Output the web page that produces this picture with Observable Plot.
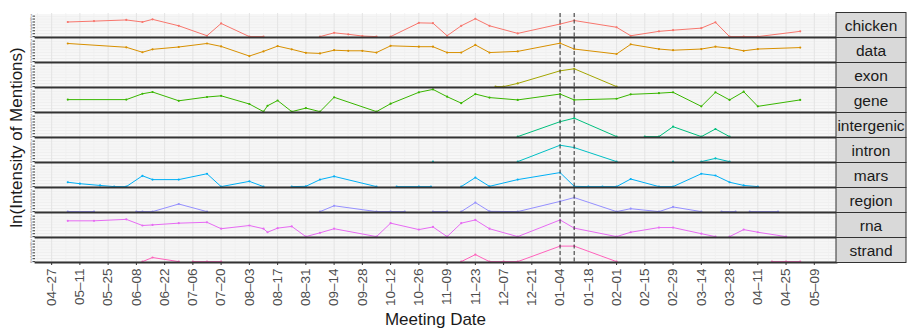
<!DOCTYPE html>
<html>
<head>
<meta charset="utf-8">
<script src="https://cdn.jsdelivr.net/npm/d3@7"></script>
<script src="https://cdn.jsdelivr.net/npm/@observablehq/plot@0.6"></script>
<style>
  html, body { margin: 0; padding: 0; background: #ffffff; }
  #chart { width: 912px; height: 328px; }
</style>
</head>
<body>
<div id="chart"></div>
<script>
// ---- categories & colours ----
const words = ["chicken","data","exon","gene","intergenic","intron","mars","region","rna","strand"];
const palette = ["#F8766D","#D89000","#A3A500","#39B600","#00BF7D","#00BFC4","#00B0F6","#9590FF","#E76BF3","#FF62BC"];

// ---- series: [meeting date, ln(intensity)]; null = no mention (line gap) ----
const sChicken = [["2015-05-05",5.0],["2015-05-18",5.3],["2015-06-03",5.7],["2015-06-11",5.0],["2015-06-16",5.9],["2015-06-29",3.7],["2015-07-13",0.3],["2015-07-20",4.5],["2015-08-03",0],["2015-08-10",0],["2015-08-20",null],["2015-09-07",0],["2015-09-14",1.3],["2015-09-21",0.8],["2015-09-28",0.2],["2015-10-05",0],["2015-10-08",null],["2015-10-12",0],["2015-10-26",4.7],["2015-11-02",4.6],["2015-11-09",0.3],["2015-11-16",3.7],["2015-11-23",6.1],["2015-11-30",3.7],["2015-12-14",1.1],["2016-01-04",4.3],["2016-01-11",5.5],["2016-02-01",3.2],["2016-02-08",0.3],["2016-02-22",1.8],["2016-02-29",2.2],["2016-03-14",2.9],["2016-03-21",4.9],["2016-03-28",0],["2016-04-04",0],["2016-04-11",0],["2016-05-02",1.8]];
const sData = [["2015-05-05",6.2],["2015-06-03",4.9],["2015-06-11",3.2],["2015-06-16",4.2],["2015-06-29",5.0],["2015-07-13",6.2],["2015-07-20",5.2],["2015-08-03",1.9],["2015-08-10",3.5],["2015-08-17",5.3],["2015-08-24",4.2],["2015-08-31",3.0],["2015-09-07",2.8],["2015-09-14",3.9],["2015-09-21",3.7],["2015-09-28",3.7],["2015-10-05",3.1],["2015-10-12",5.4],["2015-10-26",5.1],["2015-11-02",5.1],["2015-11-09",3.1],["2015-11-16",3.1],["2015-11-23",5.7],["2015-11-30",3.1],["2015-12-14",3.5],["2016-01-04",6.3],["2016-01-11",4.3],["2016-02-01",2.6],["2016-02-08",5.9],["2016-02-22",4.3],["2016-02-29",3.9],["2016-03-14",4.3],["2016-03-21",5.1],["2016-03-28",4.6],["2016-04-04",3.7],["2016-04-11",4.3],["2016-05-02",4.8]];
const sExon = [["2015-12-03",0],["2015-12-07",0],["2015-12-14",1.1],["2016-01-04",5.4],["2016-01-11",6.1],["2016-02-01",0]];
const sGene = [["2015-05-05",4.1],["2015-06-03",4.1],["2015-06-11",6.1],["2015-06-16",6.7],["2015-06-29",3.7],["2015-07-13",5.0],["2015-07-20",5.4],["2015-08-03",2.6],["2015-08-10",0],["2015-08-12",2.0],["2015-08-17",3.8],["2015-08-24",0],["2015-08-31",1.2],["2015-09-07",0],["2015-09-14",4.9],["2015-10-05",0],["2015-10-12",2.7],["2015-10-26",6.6],["2015-11-02",7.6],["2015-11-09",5.1],["2015-11-16",2.9],["2015-11-23",6.0],["2015-11-30",4.8],["2015-12-14",4.0],["2016-01-04",6.0],["2016-01-11",4.0],["2016-02-01",4.4],["2016-02-08",5.9],["2016-02-22",6.3],["2016-02-29",6.6],["2016-03-14",1.8],["2016-03-21",6.6],["2016-03-28",4.0],["2016-04-04",6.8],["2016-04-11",1.8],["2016-05-02",4.0]];
const sIntergenic = [["2015-12-14",0],["2016-01-04",5.1],["2016-01-11",6.3],["2016-02-01",0],["2016-02-10",null],["2016-02-15",0],["2016-02-22",0],["2016-02-29",3.4],["2016-03-14",0],["2016-03-21",2.6],["2016-03-28",0]];
const sIntron = [["2015-11-02",0],["2015-11-20",null],["2015-12-14",0],["2016-01-04",5.6],["2016-01-11",4.8],["2016-02-01",0],["2016-02-15",null],["2016-02-29",0],["2016-03-07",null],["2016-03-14",0],["2016-03-21",1.1],["2016-03-28",0]];
const sMars = [["2015-05-05",1.5],["2015-05-11",1.0],["2015-05-21",0.4],["2015-05-28",0],["2015-06-03",0],["2015-06-11",3.7],["2015-06-16",2.4],["2015-06-29",2.4],["2015-07-13",4.4],["2015-07-20",0],["2015-08-03",1.8],["2015-08-10",0],["2015-08-20",null],["2015-08-24",0],["2015-08-31",0.1],["2015-09-07",2.4],["2015-09-14",3.5],["2015-10-05",0],["2015-10-10",null],["2015-10-15",0],["2015-10-26",0],["2015-11-01",0],["2015-11-05",null],["2015-11-16",0],["2015-11-23",3.1],["2015-11-30",0.1],["2015-12-14",2.4],["2016-01-04",4.8],["2016-01-11",0.1],["2016-01-18",0],["2016-01-25",0],["2016-02-01",0],["2016-02-08",2.6],["2016-02-22",0],["2016-02-29",0],["2016-03-14",4.4],["2016-03-21",3.8],["2016-03-28",1.5],["2016-04-04",0.4],["2016-04-11",0]];
const sRegion = [["2015-05-05",0],["2015-05-18",0],["2015-05-25",null],["2015-06-08",0],["2015-06-11",0],["2015-06-16",0],["2015-06-29",2.6],["2015-07-13",0],["2015-08-01",null],["2015-09-07",0],["2015-09-14",2.0],["2015-10-05",0],["2015-10-12",0],["2015-10-19",0],["2015-10-22",null],["2015-11-02",0],["2015-11-09",0],["2015-11-12",null],["2015-11-16",0],["2015-11-23",3.1],["2015-11-30",0.1],["2015-12-14",0],["2016-01-04",3.5],["2016-01-11",4.8],["2016-02-01",0],["2016-02-08",1.0],["2016-02-22",0],["2016-02-29",1.6],["2016-03-14",0],["2016-03-18",null],["2016-03-24",0],["2016-03-31",0],["2016-04-04",null],["2016-04-07",0],["2016-04-21",0]];
const sRna = [["2015-05-05",5.4],["2015-05-18",5.4],["2015-06-03",5.9],["2015-06-11",3.8],["2015-06-16",4.0],["2015-06-29",4.6],["2015-07-13",4.9],["2015-07-20",2.7],["2015-08-03",3.8],["2015-08-10",2.7],["2015-08-12",1.5],["2015-08-17",2.9],["2015-08-24",3.5],["2015-08-31",0],["2015-09-07",1.3],["2015-09-14",2.7],["2015-10-05",0],["2015-10-12",4.6],["2015-10-26",2.4],["2015-11-02",3.3],["2015-11-09",0],["2015-11-16",4.6],["2015-11-23",5.7],["2015-11-30",2.7],["2015-12-14",0],["2016-01-04",5.7],["2016-01-11",2.9],["2016-02-01",0],["2016-02-08",1.5],["2016-02-22",3.1],["2016-02-29",3.1],["2016-03-14",1.0],["2016-03-21",0],["2016-03-24",null],["2016-03-28",0],["2016-04-04",2.4],["2016-04-11",1.5],["2016-04-25",0]];
const sStrand = [["2015-06-11",0],["2015-06-16",1.4],["2015-06-29",0],["2015-07-02",null],["2015-07-06",0],["2015-07-13",0],["2015-07-20",0],["2015-08-01",null],["2015-11-16",0],["2015-11-23",2.4],["2015-11-30",0],["2015-12-07",0],["2015-12-14",0],["2016-01-04",5.3],["2016-01-11",5.3],["2016-02-01",0],["2016-03-01",null],["2016-04-18",0],["2016-04-25",0],["2016-05-02",0]];

// ---- event markers (dashed lines) and axis ticks ----
const eventDates = ["2016-01-04","2016-01-11"];
const xTickLabels = ["04–27","05–11","05–25","06–08","06–22","07–06","07–20","08–03","08–17","08–31","09–14","09–28","10–12","10–26","11–09","11–23","12–07","12–21","01–04","01–18","02–01","02–15","02–29","03–14","03–28","04–11","04–25","05–09"];
const firstTick = "2015-04-27";
const yTicks = [0,1,2,3,4,5,6,7];
const xDomain = ["2015-04-19","2016-05-20"];
const yDomain = [-0.3, 7.9];

// ---- build table ----
const seriesList = [sChicken,sData,sExon,sGene,sIntergenic,sIntron,sMars,sRegion,sRna,sStrand];
const rows = [];
seriesList.forEach((s, i) => s.forEach(([d, v]) => rows.push({word: words[i], date: d3.isoParse(d), value: v})));

const t0 = d3.isoParse(firstTick);
const majorTicks = xTickLabels.map((_, i) => d3.utcDay.offset(t0, 14 * i));
const labelOf = new Map(majorTicks.map((t, i) => [+t, xTickLabels[i]]));
const minorTicks = d3.range(-1, xTickLabels.length).map(i => d3.utcDay.offset(t0, 14 * i + 7));
const yMinor = yTicks.map(v => v + 0.5).concat([-0.5 + 0.5 - 0.0]).filter(v => v > yDomain[0] && v < yDomain[1]);

const chart = Plot.plot({
  width: 912,
  height: 328,
  marginTop: 10,
  marginBottom: 63,
  marginLeft: 35,
  marginRight: 76,
  style: {fontFamily: "'Liberation Sans', Arial, Helvetica, sans-serif", background: "#ffffff", color: "#4d4d4d"},
  x: {type: "utc", domain: xDomain.map(d3.isoParse)},
  y: {domain: yDomain},
  fy: {domain: words, paddingInner: 0.04, paddingOuter: 0, axis: null},
  color: {domain: words, range: palette},
  marks: [
    Plot.gridY(yMinor, {stroke: "#f1f1f1", strokeOpacity: 1, strokeWidth: 0.7}),
    Plot.gridY(yTicks, {stroke: "#e9e9e9", strokeOpacity: 1, strokeWidth: 1}),
    Plot.gridX(minorTicks, {stroke: "#efefef", strokeOpacity: 1, strokeWidth: 0.7}),
    Plot.gridX(majorTicks, {stroke: "#e4e4e4", strokeOpacity: 1, strokeWidth: 1}),
    Plot.line(rows, {x: "date", y: "value", fy: "word", stroke: "word", strokeWidth: 1}),
    Plot.dot(rows, {x: "date", y: "value", fy: "word", fill: "word", r: 1.1}),
    Plot.ruleX(eventDates.map(d3.isoParse), {stroke: "#4d4d4d", strokeWidth: 1.2, strokeDasharray: "4,2.5"}),
    Plot.frame({anchor: "bottom", stroke: "#333333", strokeWidth: 1.8}),
    Plot.axisY(yTicks, {tickSize: 2.5, tickPadding: 1, fontSize: 3.2, stroke: "#333333", fill: "#4d4d4d", label: null}),
    Plot.axisX(majorTicks, {tickSize: 3, tickPadding: 3, tickRotate: -90, fontSize: 13.5, tickFormat: d => labelOf.get(+d), stroke: "#333333", fill: "#4d4d4d", label: null})
  ]
});

document.getElementById("chart").appendChild(chart);

// ---- facet strips, axis titles (positions from the plot's own scales) ----
const svg = d3.select(chart);
const fy = chart.scale("fy");
const xs = chart.scale("x");
const xRight = xs.range[1];
const xLeft = xs.range[0];
const stripW = 70;
const bw = fy.bandwidth;
const gap = fy.step - fy.bandwidth;
const g = svg.append("g");
words.forEach(w => {
  const top = fy.apply(w);
  g.append("rect")
    .attr("x", xRight).attr("y", top - gap / 2)
    .attr("width", stripW).attr("height", bw + gap)
    .attr("fill", "#d9d9d9").attr("stroke", "#333333").attr("stroke-width", 1);
  g.append("text")
    .attr("x", xRight + stripW / 2).attr("y", top + bw / 2)
    .attr("text-anchor", "middle").attr("dominant-baseline", "central")
    .attr("font-size", 15.5).attr("fill", "#1a1a1a")
    .text(w);
});
const yTop = fy.apply(words[0]);
const yBottom = fy.apply(words[words.length - 1]) + bw;
svg.append("text")
  .attr("transform", `translate(21.5,${(yTop + yBottom) / 2}) rotate(-90)`)
  .attr("text-anchor", "middle")
  .attr("font-size", 17).attr("fill", "#1a1a1a")
  .text("ln(Intensity of Mentions)");
svg.append("text")
  .attr("x", (xLeft + xRight) / 2).attr("y", 324.5)
  .attr("text-anchor", "middle")
  .attr("font-size", 17).attr("fill", "#1a1a1a")
  .text("Meeting Date");
</script>
</body>
</html>
